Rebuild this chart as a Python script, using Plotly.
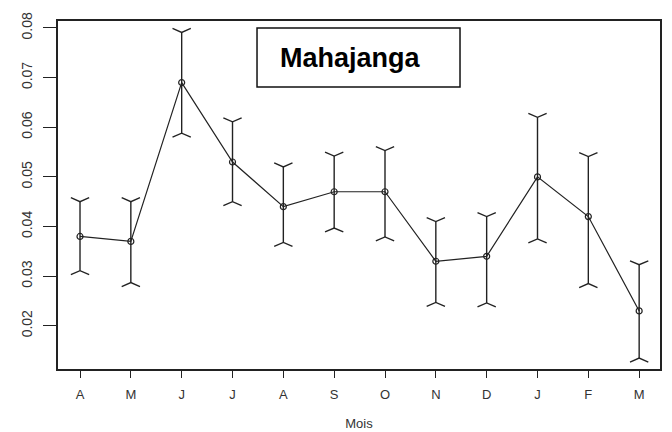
import plotly.graph_objects as go

months = ["A", "M", "J", "J", "A", "S", "O", "N", "D", "J", "F", "M"]
means = [0.038, 0.037, 0.069, 0.053, 0.044, 0.047, 0.047, 0.033, 0.034, 0.050, 0.042, 0.023]
upper = [0.0450, 0.0450, 0.0791, 0.0611, 0.0520, 0.0542, 0.0553, 0.0410, 0.0420, 0.0620, 0.0541, 0.0323]
lower = [0.0311, 0.0287, 0.0588, 0.0450, 0.0368, 0.0397, 0.0379, 0.0247, 0.0246, 0.0375, 0.0285, 0.0135]
y_ticks = [0.02, 0.03, 0.04, 0.05, 0.06, 0.07, 0.08]

x = list(range(1, len(months) + 1))

# stems + R-style forked arrow heads
dx, dy = 0.18, 0.0008
bx, by = [], []
for xi, lo, hi in zip(x, lower, upper):
    bx += [xi, xi, None]
    by += [lo, hi, None]
    bx += [xi - dx, xi, xi + dx, None]
    by += [hi + dy, hi, hi + dy, None]
    bx += [xi - dx, xi, xi + dx, None]
    by += [lo - dy, lo, lo - dy, None]

fig = go.Figure()
fig.add_trace(go.Scatter(x=bx, y=by, mode="lines",
                         line=dict(color="#222", width=1.4), hoverinfo="skip"))
fig.add_trace(go.Scatter(x=x, y=means, mode="lines+markers",
                         line=dict(color="#222", width=1.2),
                         marker=dict(symbol="circle-open", size=6, color="#222",
                                     line=dict(width=1.2))))

# page body has an 8px margin, so the figure is sized/offset for it
fig.update_layout(
    width=664, height=424,
    margin=dict(l=50, r=12, t=13, b=63),
    plot_bgcolor="white", paper_bgcolor="white",
    showlegend=False,
    font=dict(family="Liberation Sans, Arial", color="#333", size=13),
)
fig.update_xaxes(range=[0.567, 12.41], tickvals=x, ticktext=months,
                 automargin=False, ticklabelstandoff=6,
                 showgrid=False, zeroline=False,
                 showline=True, mirror=True, linecolor="#222", linewidth=1.5,
                 ticks="outside", ticklen=7, tickcolor="#222",
                 title=dict(text="Mois", font=dict(size=13), standoff=18))
fig.update_yaxes(range=[0.0113, 0.0814], tickvals=y_ticks,
                 tickformat=".2f", tickangle=-90, automargin=False,
                 tickfont=dict(size=14), ticklabelstandoff=6,
                 showgrid=False, zeroline=False,
                 showline=True, mirror=True, linecolor="#222", linewidth=1.5,
                 ticks="outside", ticklen=13, tickcolor="#222")

fig.add_shape(type="rect", xref="paper", yref="paper",
              x0=0.3306, x1=0.6678, y0=0.8103, y1=0.9799,
              line=dict(color="#111", width=1.5), fillcolor="white")
fig.add_annotation(text="<b>Mahajanga</b>", xref="paper", yref="paper",
                   x=0.3654, y=0.893, xanchor="left", yanchor="middle",
                   showarrow=False, font=dict(size=27, color="black",
                                              family="Liberation Sans, Arial"))

fig.write_html("out.html")
